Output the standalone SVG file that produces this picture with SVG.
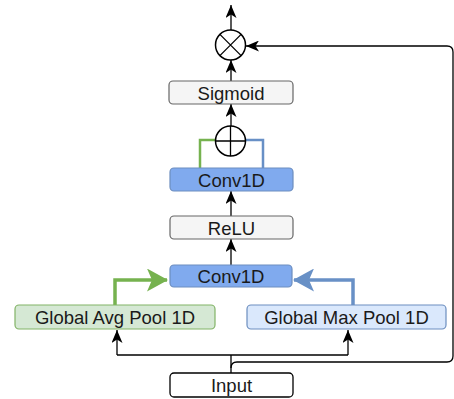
<svg xmlns="http://www.w3.org/2000/svg" width="454" height="399" viewBox="0 0 454 399">
  <defs>
    <marker id="ah" viewBox="0 0 13 11" refX="13" refY="5.5" markerWidth="13" markerHeight="11" markerUnits="userSpaceOnUse" orient="auto">
      <path d="M0,0 L13,5.5 L0,11 L3.5,5.5 Z" fill="#000"/>
    </marker>
    <marker id="ahG" viewBox="0 0 21 23" refX="20" refY="11.5" markerWidth="21" markerHeight="23" markerUnits="userSpaceOnUse" orient="auto">
      <path d="M0,0 L21,11.5 L0,23 L5,11.5 Z" fill="#76b24f"/>
    </marker>
    <marker id="ahB" viewBox="0 0 21 23" refX="20" refY="11.5" markerWidth="21" markerHeight="23" markerUnits="userSpaceOnUse" orient="auto">
      <path d="M0,0 L21,11.5 L0,23 L5,11.5 Z" fill="#6890c6"/>
    </marker>
  </defs>
  <style>
    .lbl { font-family: "Liberation Sans", Arial, sans-serif; font-size: 18.5px; fill: #1a1a1a; text-anchor: middle; dominant-baseline: central; }
    .grey { fill: #f5f5f5; stroke: #666666; stroke-width: 1.2; }
    .conv { fill: #80aaee; stroke: #6c8ebf; stroke-width: 1.2; }
    .avg { fill: #d5e8d4; stroke: #82b366; stroke-width: 1.2; }
    .max { fill: #dae8fc; stroke: #6c8ebf; stroke-width: 1.2; }
    .inp { fill: #ffffff; stroke: #000000; stroke-width: 1.3; }
    .op { fill: #ffffff; stroke: #000000; stroke-width: 1.5; }
    .wire { fill: none; stroke: #000; stroke-width: 1.3; }
    .g { fill: none; stroke: #76b24f; stroke-width: 3.5; }
    .b { fill: none; stroke: #6890c6; stroke-width: 3.5; }
  </style>

  <!-- connectors -->
  <g id="connectors">
    <path class="wire" d="M231,373 V355" />
    <path class="wire" d="M117,355 H348" />
    <path class="wire" d="M117,355 V330" marker-end="url(#ah)" />
    <path class="wire" d="M348,355 V330" marker-end="url(#ah)" />
    <path class="wire" d="M231,368 Q231,362 237,362 H447 Q453,362 453,356 V52 Q453,46 447,46 H246" marker-end="url(#ah)" />
    <path class="g" d="M115,305 V280 H167" marker-end="url(#ahG)" />
    <path class="b" d="M353,305 V280 H294" marker-end="url(#ahB)" />
    <path class="wire" d="M231,265 V239" marker-end="url(#ah)" />
    <path class="wire" d="M231,216 V191" marker-end="url(#ah)" />
    <path fill="none" stroke="#76b24f" stroke-width="2.5" d="M200,168 V140 H216" />
    <path fill="none" stroke="#6890c6" stroke-width="2.5" d="M263,168 V140 H245" />
    <path class="wire" d="M231,126 V104" marker-end="url(#ah)" />
    <path class="wire" d="M231,81 V60" marker-end="url(#ah)" />
    <path class="wire" d="M231,30 V5" marker-end="url(#ah)" />
  </g>

  <g id="input">
    <rect class="inp" x="170" y="373" width="123" height="24" rx="4" />
    <text class="lbl" x="231.5" y="385.5">Input</text>
  </g>
  <g id="avgpool">
    <rect class="avg" x="15" y="305" width="200" height="24" rx="4" />
    <text class="lbl" x="115" y="317.5">Global Avg Pool 1D</text>
  </g>
  <g id="maxpool">
    <rect class="max" x="247" y="305" width="199" height="24" rx="4" />
    <text class="lbl" x="346.5" y="317.5">Global Max Pool 1D</text>
  </g>
  <g id="conv1">
    <rect class="conv" x="170" y="265" width="122" height="22" rx="4" />
    <text class="lbl" x="231" y="276.5">Conv1D</text>
  </g>
  <g id="relu">
    <rect class="grey" x="170" y="216" width="123" height="23" rx="4" />
    <text class="lbl" x="231.5" y="228">ReLU</text>
  </g>
  <g id="conv2">
    <rect class="conv" x="170" y="168" width="123" height="23" rx="4" />
    <text class="lbl" x="231.5" y="180">Conv1D</text>
  </g>
  <g id="add">
    <circle class="op" cx="230.5" cy="141" r="15" />
    <path class="wire" d="M215.5,141 H245.5 M230.5,126 V156" />
  </g>
  <g id="sigmoid">
    <rect class="grey" x="169" y="81" width="124" height="23" rx="4" />
    <text class="lbl" x="231" y="93">Sigmoid</text>
  </g>
  <g id="multiply">
    <circle class="op" cx="230.5" cy="45" r="15" />
    <path class="wire" d="M219.9,34.4 L241.1,55.6 M241.1,34.4 L219.9,55.6" />
  </g>
</svg>
